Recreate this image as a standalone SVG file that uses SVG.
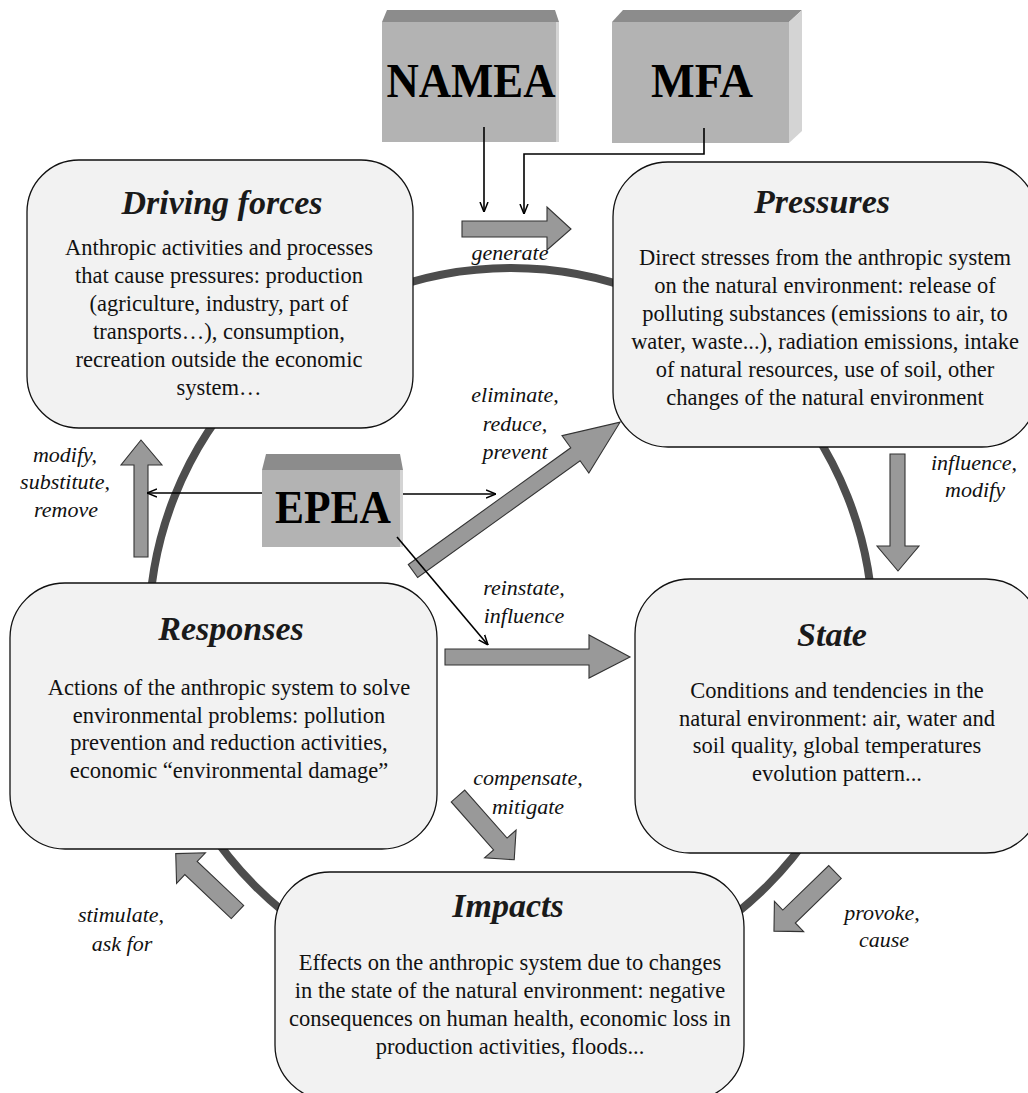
<svg xmlns="http://www.w3.org/2000/svg" width="1028" height="1093" viewBox="0 0 1028 1093">
<defs>
<style>
.box{fill:#f2f2f2;stroke:#111;stroke-width:1.3}
.ttl{font-family:"Liberation Serif","Times New Roman",serif;font-size:34px;font-weight:bold;font-style:italic;fill:#1a1a1a;text-anchor:middle}
.body{font-family:"Liberation Serif","Times New Roman",serif;font-size:22.5px;fill:#111;text-anchor:middle}
.lbl{font-family:"Liberation Serif","Times New Roman",serif;font-size:22px;font-style:italic;fill:#111;text-anchor:middle}
.blk{fill:#999;stroke:#333;stroke-width:1.1;stroke-linejoin:miter}
.front{fill:#b3b3b3}
.top{fill:#8c8c8c}
.side{fill:#d4d4d4}
.big{font-family:"Liberation Serif","Times New Roman",serif;font-weight:bold;fill:#000;text-anchor:middle}
.thin{fill:none;stroke:#000;stroke-width:1.6;marker-end:url(#ah)}
</style>
<marker id="ah" viewBox="0 0 10 10" refX="10" refY="5" markerWidth="10" markerHeight="10" markerUnits="userSpaceOnUse" orient="auto">
<path d="M0,1 L10,5 L0,9" fill="none" stroke="#000" stroke-width="1.5"/>
</marker>
<polygon id="sarrow85" points="0,-9 64,-9 64,-21 85,0 64,21 64,9 0,9"/>
</defs>
<rect width="1028" height="1093" fill="#fff"/>

<g id="ring">
<circle cx="511" cy="630" r="362" fill="none" stroke="#4d4d4d" stroke-width="8"/>
</g>

<g id="driving-forces">
<rect class="box" x="27" y="160" width="386" height="268" rx="52" ry="52"/>
<text class="ttl" x="222" y="214">Driving forces</text>
<text class="body" x="219" y="255">Anthropic activities and processes</text>
<text class="body" x="219" y="283">that cause pressures: production</text>
<text class="body" x="219" y="311">(agriculture, industry, part of</text>
<text class="body" x="219" y="339">transports…), consumption,</text>
<text class="body" x="219" y="367">recreation outside the economic</text>
<text class="body" x="219" y="395">system…</text>
</g>

<g id="pressures">
<rect class="box" x="613" y="162" width="424" height="285" rx="55" ry="55"/>
<text class="ttl" x="822" y="213">Pressures</text>
<text class="body" x="825" y="265">Direct stresses from the anthropic system</text>
<text class="body" x="825" y="293">on the natural environment: release of</text>
<text class="body" x="825" y="321">polluting substances (emissions to air, to</text>
<text class="body" x="825" y="349">water, waste...), radiation emissions, intake</text>
<text class="body" x="825" y="377">of natural resources, use of soil, other</text>
<text class="body" x="825" y="405">changes of the natural environment</text>
</g>

<g id="state">
<rect class="box" x="635" y="579" width="406" height="274" rx="55" ry="55"/>
<text class="ttl" x="832" y="646">State</text>
<text class="body" x="837" y="698">Conditions and tendencies in the</text>
<text class="body" x="837" y="726">natural environment: air, water and</text>
<text class="body" x="837" y="753">soil quality, global temperatures</text>
<text class="body" x="837" y="781">evolution pattern...</text>
</g>

<g id="responses">
<rect class="box" x="10" y="583" width="427" height="266" rx="55" ry="55"/>
<text class="ttl" x="231" y="640">Responses</text>
<text class="body" x="229" y="695">Actions of the anthropic system to solve</text>
<text class="body" x="229" y="723">environmental problems: pollution</text>
<text class="body" x="229" y="750">prevention and reduction activities,</text>
<text class="body" x="229" y="778">economic “environmental damage”</text>
</g>

<g id="impacts">
<rect class="box" x="275" y="872" width="469" height="228" rx="55" ry="55"/>
<text class="ttl" x="508" y="917">Impacts</text>
<text class="body" x="510" y="970">Effects on the anthropic system due to changes</text>
<text class="body" x="510" y="998">in the state of the natural environment: negative</text>
<text class="body" x="510" y="1026">consequences on human health, economic loss in</text>
<text class="body" x="510" y="1054">production activities, floods...</text>
</g>

<g id="namea">
<polygon class="top" points="382,22 387,10 555,10 559,22"/>
<rect class="front" x="382" y="22" width="177" height="120"/>
<rect class="side" x="556" y="22" width="3" height="120"/>
<text class="big" x="471" y="97" font-size="48" textLength="169" lengthAdjust="spacingAndGlyphs">NAMEA</text>
</g>

<g id="mfa">
<polygon class="top" points="612,22 623,10 802,10 789,22"/>
<polygon class="side" points="789,22 802,10 802,131 789,143"/>
<rect class="front" x="612" y="22" width="177" height="121"/>
<text class="big" x="702" y="97" font-size="48" textLength="102" lengthAdjust="spacingAndGlyphs">MFA</text>
</g>

<g id="epea">
<polygon class="top" points="262,470 266,454 400,454 403,470"/>
<rect class="front" x="262" y="470" width="141" height="77"/>
<rect class="side" x="400" y="470" width="3" height="77"/>
<text class="big" x="333" y="523" font-size="46" textLength="116" lengthAdjust="spacingAndGlyphs">EPEA</text>
</g>

<g id="connectors">
<polygon id="arrow-generate" class="blk" points="462,221 547,221 547,207 571,229 547,250 547,237 462,237"/>
<polygon id="arrow-influence" class="blk" points="890,454 905,454 905,546 919,546 898,571 877,546 890,546"/>
<polygon id="arrow-reinstate" class="blk" points="445,649 589,649 589,635 630,657 589,678 589,665 445,665"/>
<polygon id="arrow-modify" class="blk" points="134,557 134,465 121,465 141,440 162,465 148,465 148,557"/>
<polygon id="arrow-eliminate" class="blk" transform="translate(413,571) rotate(-35.7)" points="0,-8 200,-8 200,-23 255,0 200,23 200,8 0,8"/>
<use id="arrow-compensate" href="#sarrow85" class="blk" transform="translate(458,796) rotate(48.6)"/>
<use id="arrow-stimulate" href="#sarrow85" class="blk" transform="translate(237.5,912) rotate(-136.6)"/>
<use id="arrow-provoke" href="#sarrow85" class="blk" transform="translate(835,872) rotate(135.9)"/>

<path class="thin" d="M484,127 V212"/>
<path class="thin" d="M704,128 V154 H524 V214"/>
<path class="thin" d="M262,493 H147"/>
<path class="thin" d="M403,494 H496"/>
<path class="thin" d="M397,537 L488,645"/>

<text class="lbl" x="510" y="260">generate</text>
<text class="lbl" x="515" y="402">eliminate,</text>
<text class="lbl" x="515" y="431">reduce,</text>
<text class="lbl" x="515" y="459">prevent</text>
<text class="lbl" x="65" y="462">modify,</text>
<text class="lbl" x="65" y="489">substitute,</text>
<text class="lbl" x="66" y="517">remove</text>
<text class="lbl" x="524" y="595">reinstate,</text>
<text class="lbl" x="524" y="623">influence</text>
<text class="lbl" x="974" y="470">influence,</text>
<text class="lbl" x="975" y="497">modify</text>
<text class="lbl" x="528" y="785">compensate,</text>
<text class="lbl" x="528" y="814">mitigate</text>
<text class="lbl" x="121" y="922">stimulate,</text>
<text class="lbl" x="122" y="951">ask for</text>
<text class="lbl" x="882" y="920">provoke,</text>
<text class="lbl" x="884" y="947">cause</text>
</g>
</svg>
